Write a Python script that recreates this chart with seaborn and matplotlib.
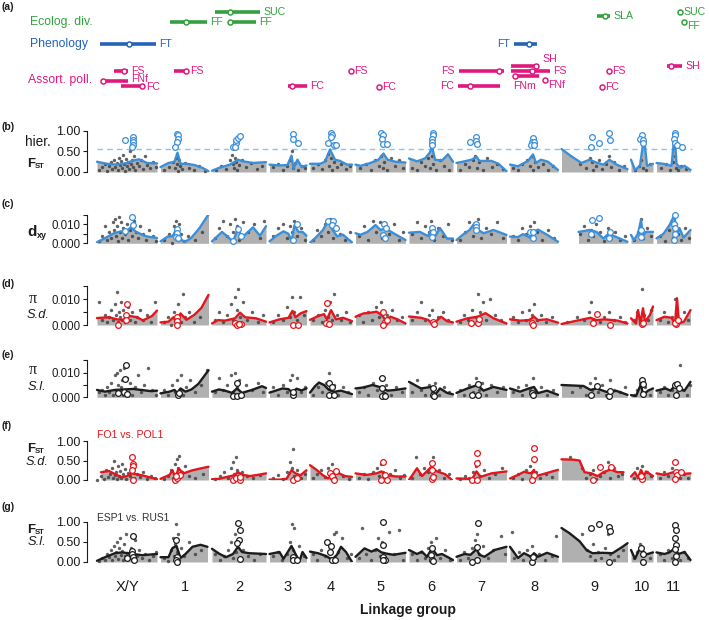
import numpy as np
import pandas as pd
import matplotlib
matplotlib.use("Agg")
import matplotlib.pyplot as plt
import seaborn as sns

# ---------------- data ----------------
GROUPS = ['X/Y', '1', '2', '3', '4', '5', '6', '7', '8', '9', '10', '11']
GROUP_LEN = [60, 48, 54, 37, 42, 50, 44, 50, 48, 66, 22, 34]

# panel (a): QTL intervals (local position within linkage group)
QTL_TRAIT = ['eco'] * 6 + ['phe'] * 2 + ['ass'] * 16
QTL_GROUP = ['2', '1', '2', '9', '11', '11', 'X/Y', '8', 'X/Y', 'X/Y', 'X/Y', '1', '3', '4', '5',
             '7', '7', '8', '8', '8', '8', '9', '9', '11']
QTL_START = [3, 9, 17, 35, 23, 27, 3, 4, 17, 4, 24, 13, 18, 41, 23, 2, 1, 1, 1, 4, 35, 47, 40, 10]
QTL_END = [48, 46, 44, 48, 23, 27, 59, 27, 31, 31, 46, 26, 37, 41, 23, 47, 43, 29, 40, 29, 35, 47, 40, 25]
QTL_PEAK = [18, 25, 18, 43, 23, 27, 32, 19, 27, 6, 45, 25, 22, 41, 23, 42, 13, 26, 22, 5, 35, 47, 40, 14]
QTL_LABEL = ['SUC', 'FF', 'FF', 'SLA', 'SUC', 'FF', 'FT', 'FT', 'FS', 'FNf', 'FC', 'FS', 'FC', 'FS', 'FC',
             'FS', 'FC', 'SH', 'FS', 'FNm', 'FNf', 'FS', 'FC', 'SH']
TRAIT_NAMES = {'eco': 'Ecolog. div.', 'phe': 'Phenology', 'ass': 'Assort. poll.'}

# (b) hierarchical FST
LINE_B = {
    'X/Y': [(0, 0.25), (10, 0.2), (20, 0.18), (30, 0.22), (36, 0.28), (42, 0.31), (50, 0.22), (60, 0.21)],
    '1': [(0, 0.12), (8, 0.22), (14, 0.25), (17, 0.47), (20, 0.2), (26, 0.2), (34, 0.17), (42, 0.1), (48, 0.02)],
    '2': [(0, 0.03), (7, 0.1), (18, 0.18), (26, 0.3), (31, 0.26), (41, 0.22), (54, 0.24)],
    '3': [(0, 0.18), (10, 0.16), (18, 0.17), (22, 0.4), (24, 0.08), (28, 0.3), (32, 0.12), (37, 0.16)],
    '4': [(0, 0.2), (10, 0.2), (15, 0.25), (20, 0.55), (25, 0.3), (30, 0.27), (37, 0.18), (42, 0.18)],
    '5': [(0, 0.18), (5, 0.15), (15, 0.22), (23, 0.3), (28, 0.45), (32, 0.3), (40, 0.25), (50, 0.23)],
    '6': [(0, 0.33), (8, 0.26), (16, 0.33), (21, 0.48), (23, 0.62), (26, 0.3), (33, 0.28), (39, 0.43), (44, 0.25)],
    '7': [(0, 0.22), (8, 0.26), (15, 0.3), (20, 0.37), (23, 0.27), (35, 0.27), (42, 0.2), (50, 0.02)],
    '8': [(0, 0.18), (8, 0.14), (18, 0.27), (23, 0.43), (26, 0.22), (31, 0.3), (38, 0.25), (48, 0.05)],
    '9': [(0, 0.56), (10, 0.38), (20, 0.22), (28, 0.3), (36, 0.22), (42, 0.18), (48, 0.3), (55, 0.18), (66, 0.07)],
    '10': [(0, 0.3), (4, 0.05), (9, 0.15), (13, 0.85), (16, 0.15), (22, 0.2)],
    '11': [(0, 0.22), (7, 0.2), (15, 0.15), (18, 0.9), (20, 0.2), (24, 0.1), (28, 0.15), (34, 0.05)],
}
DOTS_B = {
    'X/Y': [(2, 0.05), (5, 0.12), (8, 0.2), (10, 0.02), (12, 0.15), (14, 0.25), (15, 0.08), (17, 0.3), (18, 0.12),
            (20, 0.22), (21, 0.05), (22, 0.35), (23, 0.18), (24, 0.28), (25, 0.1), (26, 0.42), (27, 0.2), (28, 0.03),
            (29, 0.32), (30, 0.15), (31, 0.25), (32, 0.08), (33, 0.5), (34, 0.2), (35, 0.3), (36, 0.12), (37, 0.38),
            (38, 0.05), (40, 0.22), (42, 0.15), (44, 0.3), (46, 0.08), (48, 0.4), (50, 0.18), (53, 0.1), (56, 0.25),
            (59, 0.12)],
    '1': [(3, 0.05), (8, 0.12), (12, 0.25), (14, 0.1), (15, 0.35), (16, 0.2), (17, 0.02), (18, 0.3), (19, 0.15),
          (21, 0.08), (24, 0.22), (28, 0.1), (33, 0.05), (38, 0.15), (44, 0.03)],
    '2': [(4, 0.05), (9, 0.15), (14, 0.08), (18, 0.3), (20, 0.42), (21, 0.2), (22, 0.1), (23, 0.35), (24, 0.25),
          (25, 0.05), (27, 0.18), (30, 0.3), (34, 0.12), (39, 0.22), (45, 0.08), (50, 0.15)],
    '3': [(3, 0.12), (8, 0.2), (13, 0.05), (17, 0.15), (20, 0.3), (22, 0.5), (23, 0.1), (25, 0.22), (28, 0.05),
          (32, 0.15), (35, 0.1)],
    '4': [(3, 0.1), (8, 0.2), (12, 0.08), (15, 0.3), (18, 0.45), (19, 0.15), (21, 0.35), (22, 0.05), (24, 0.25),
          (27, 0.12), (31, 0.2), (36, 0.08), (40, 0.15)],
    '5': [(4, 0.1), (10, 0.2), (15, 0.05), (19, 0.3), (23, 0.15), (25, 0.4), (27, 0.1), (28, 0.25), (31, 0.05),
          (35, 0.35), (39, 0.15), (43, 0.3), (47, 0.1)],
    '6': [(3, 0.1), (8, 0.05), (12, 0.25), (16, 0.15), (19, 0.35), (21, 0.1), (23, 0.4), (24, 0.2), (27, 0.05),
          (31, 0.3), (35, 0.15), (40, 0.05)],
    '7': [(3, 0.05), (8, 0.2), (12, 0.12), (16, 0.3), (18, 0.4), (20, 0.1), (22, 0.25), (26, 0.05), (30, 0.35),
          (35, 0.12), (40, 0.2), (46, 0.08)],
    '8': [(3, 0.1), (8, 0.05), (12, 0.2), (17, 0.3), (20, 0.15), (22, 0.4), (23, 0.05), (25, 0.25), (28, 0.12),
          (33, 0.2), (38, 0.05), (43, 0.15)],
    '9': [(18, 0.2), (24, 0.1), (28, 0.35), (30, 0.25), (31, 0.05), (34, 0.15), (37, 0.3), (40, 0.08), (44, 0.2),
          (47, 0.4), (49, 0.12), (52, 0.25), (57, 0.05), (62, 0.15)],
    '10': [(4, 0.05), (8, 0.15), (10, 0.3), (12, 0.1), (15, 0.05), (19, 0.2)],
    '11': [(4, 0.1), (9, 0.2), (13, 0.05), (16, 0.25), (18, 0.4), (19, 0.1), (21, 0.05), (24, 0.15), (29, 0.08)],
}
CIRC_B = {
    'X/Y': [(28, 0.78), (36, 0.86), (36, 0.78), (36, 0.72), (36, 0.65), (35, 0.6)],
    '1': [(16, 0.93), (17, 0.9), (17, 0.8), (16, 0.74), (14, 0.6)],
    '2': [(21, 0.6), (24, 0.7), (24, 0.78), (26, 0.83), (28, 0.87), (23, 0.6)],
    '3': [(23, 0.93), (23, 0.8), (28, 0.7)],
    '4': [(18, 0.7), (21, 0.94), (22, 0.9), (21, 0.85), (24, 0.67), (26, 0.65)],
    '5': [(25, 0.96), (27, 0.9), (26, 0.8), (27, 0.68), (31, 0.68)],
    '6': [(24, 0.95), (24, 0.9), (23, 0.8), (23, 0.73), (23, 0.65)],
    '7': [(13, 0.72), (19, 0.86), (19, 0.76), (20, 0.68)],
    '8': [(23, 0.84), (22, 0.74), (24, 0.74), (21, 0.66), (24, 0.66)],
    '9': [(30, 0.86), (29, 0.62), (37, 0.7), (47, 0.96), (48, 0.77)],
    '10': [(11, 0.9), (9, 0.8), (12, 0.77), (12, 0.7)],
    '11': [(18, 0.95), (18, 0.9), (17, 0.8), (18, 0.7), (20, 0.67), (25, 0.62)],
}
HIER_THRESHOLD = 0.56

# (c) dxy
LINE_C = {
    'X/Y': [(0, 0.0005), (9, 0.003), (17, 0.0053), (24, 0.0063), (29, 0.006), (34, 0.0085), (39, 0.006), (49, 0.0037), (60, 0.0028)],
    '1': [(0, 0.001), (7, 0.0035), (12, 0.0037), (16, 0.0074), (19, 0.003), (24, 0.0005), (31, 0.003), (39, 0.008), (48, 0.0152)],
    '2': [(0, 0.001), (10, 0.006), (21, 0.001), (26, 0.0078), (30, 0.003), (41, 0.0084), (48, 0.004), (54, 0.009)],
    '3': [(0, 0.001), (7, 0.004), (14, 0.0063), (19, 0.005), (22, 0.001), (25, 0.0095), (29, 0.006), (33, 0.006), (37, 0.004)],
    '4': [(0, 0.0003), (5, 0.0026), (13, 0.007), (18, 0.012), (22, 0.0075), (27, 0.0037), (33, 0.0045), (42, 0.0005)],
    '5': [(0, 0.0053), (5, 0.0045), (12, 0.006), (20, 0.0096), (25, 0.007), (30, 0.0078), (38, 0.0053), (50, 0.0017)],
    '6': [(0, 0.0056), (11, 0.006), (19, 0.0038), (23, 0.0079), (26, 0.0035), (31, 0.008), (38, 0.0025), (44, 0.0025)],
    '7': [(0, 0.0017), (6, 0.0044), (13, 0.007), (18, 0.0105), (22, 0.007), (27, 0.0053), (37, 0.007), (50, 0.0044)],
    '8': [(0, 0.0035), (8, 0.0033), (13, 0.0048), (20, 0.003), (23, 0.006), (28, 0.0072), (37, 0.0045), (48, 0.0008)],
    '9': [(17, 0.006), (22, 0.0064), (28, 0.007), (35, 0.006), (42, 0.0025), (47, 0.005), (54, 0.0035), (66, 0.0008)],
    '10': [(0, 0.0044), (3, 0.0017), (7, 0.005), (10, 0.0122), (12, 0.004), (15, 0.006), (22, 0.006)],
    '11': [(0, 0.0026), (7, 0.005), (13, 0.0096), (18, 0.0149), (20, 0.004), (23, 0.008), (27, 0.003), (34, 0.007)],
}
DOTS_C = {
    'X/Y': [(2, 0.001), (5, 0.004), (8, 0.009), (10, 0.002), (12, 0.006), (14, 0.003), (16, 0.011), (17, 0.007),
            (18, 0.013), (19, 0.004), (20, 0.009), (21, 0.001), (22, 0.014), (23, 0.006), (24, 0.011), (25, 0.003),
            (26, 0.008), (28, 0.005), (30, 0.01), (31, 0.002), (33, 0.007), (35, 0.004), (37, 0.012), (39, 0.006),
            (41, 0.003), (43, 0.009), (46, 0.005), (49, 0.002), (52, 0.007), (56, 0.004), (59, 0.001)],
    '1': [(3, 0.002), (8, 0.005), (11, 0.0), (13, 0.009), (14, 0.004), (15, 0.012), (16, 0.007), (17, 0.002),
          (18, 0.01), (20, 0.005), (23, 0.001), (27, 0.004), (34, 0.002), (41, 0.006)],
    '2': [(3, 0.003), (7, 0.008), (11, 0.012), (15, 0.004), (18, 0.01), (21, 0.006), (23, 0.013), (25, 0.009),
          (27, 0.002), (31, 0.011), (36, 0.006), (42, 0.01), (48, 0.003), (52, 0.012)],
    '3': [(3, 0.004), (8, 0.008), (13, 0.01), (17, 0.003), (20, 0.009), (22, 0.006), (24, 0.012), (27, 0.004),
          (31, 0.008), (35, 0.002)],
    '4': [(3, 0.002), (7, 0.007), (11, 0.004), (15, 0.01), (18, 0.006), (20, 0.013), (23, 0.003), (26, 0.009),
          (30, 0.005), (35, 0.002), (40, 0.006)],
    '5': [(3, 0.004), (8, 0.009), (12, 0.002), (17, 0.012), (20, 0.006), (24, 0.011), (26, 0.003), (29, 0.008),
          (33, 0.005), (38, 0.01), (43, 0.002), (47, 0.006)],
    '6': [(3, 0.005), (8, 0.011), (12, 0.003), (16, 0.009), (20, 0.006), (22, 0.012), (25, 0.002), (29, 0.008),
          (34, 0.004), (39, 0.01), (43, 0.002)],
    '7': [(3, 0.002), (8, 0.006), (12, 0.011), (16, 0.004), (19, 0.009), (21, 0.013), (24, 0.003), (29, 0.008),
          (34, 0.005), (40, 0.011), (46, 0.003)],
    '8': [(3, 0.004), (8, 0.002), (12, 0.008), (16, 0.005), (20, 0.009), (22, 0.003), (24, 0.011), (27, 0.006),
          (32, 0.002), (38, 0.007), (44, 0.003)],
    '9': [(18, 0.005), (22, 0.009), (26, 0.002), (29, 0.007), (31, 0.004), (34, 0.01), (38, 0.006), (42, 0.001),
          (46, 0.008), (49, 0.003), (53, 0.006), (58, 0.002), (63, 0.004)],
    '10': [(3, 0.002), (7, 0.006), (10, 0.013), (12, 0.003), (16, 0.008), (20, 0.004)],
    '11': [(3, 0.004), (8, 0.001), (12, 0.007), (16, 0.003), (19, 0.01), (21, 0.005), (24, 0.002), (28, 0.008), (32, 0.003)],
}
CIRC_C = {
    'X/Y': [(35, 0.014), (36, 0.0098), (28, 0.0066)],
    '1': [(16, 0.0077), (16, 0.0055), (15, 0.0035), (17, 0.003)],
    '2': [(21, 0.0011), (29, 0.004), (26, 0.0075)],
    '3': [(23, 0.0015), (27, 0.0102)],
    '4': [(18, 0.012), (23, 0.012), (22, 0.0098), (26, 0.008)],
    '5': [(28, 0.0102), (30, 0.0081), (27, 0.0045), (29, 0.0028)],
    '6': [(23, 0.0079), (24, 0.0062), (23, 0.0035)],
    '7': [(19, 0.01), (19, 0.0085), (19, 0.007)],
    '8': [(20, 0.006), (23, 0.0062), (23, 0.003)],
    '9': [(30, 0.0122), (37, 0.0131), (29, 0.0048), (48, 0.006), (47, 0.0026)],
    '10': [(10, 0.0032), (10, 0.007)],
    '11': [(18, 0.015), (17, 0.0102), (18, 0.008), (18, 0.005), (17, 0.0015)],
}

# (d) pi, S. dioica
LINE_D = {
    'X/Y': [(0, 0.0027), (12, 0.003), (20, 0.0022), (26, 0.002), (33, 0.0035), (40, 0.003), (46, 0.0018), (55, 0.0035), (60, 0.0056)],
    '1': [(0, 0.001), (8, 0.0013), (13, 0.003), (16, 0.0009), (20, 0.0045), (26, 0.002), (34, 0.004), (41, 0.0067), (48, 0.0117)],
    '2': [(0, 0.0006), (6, 0.0019), (13, 0.0017), (23, 0.0026), (28, 0.0048), (33, 0.003), (44, 0.0026), (54, 0.0013)],
    '3': [(0, 0.001), (10, 0.0022), (19, 0.0028), (23, 0.0055), (26, 0.003), (31, 0.0045), (37, 0.0054)],
    '4': [(0, 0.002), (9, 0.0036), (14, 0.0042), (17, 0.0022), (21, 0.0058), (26, 0.0022), (33, 0.0028), (42, 0.0015)],
    '5': [(0, 0.0032), (8, 0.0045), (14, 0.0047), (21, 0.0052), (26, 0.0039), (30, 0.002), (35, 0.0032), (42, 0.0022), (50, 0.0006)],
    '6': [(0, 0.0033), (12, 0.0028), (19, 0.002), (24, 0.0003), (32, 0.0032), (38, 0.0015), (44, 0.001)],
    '7': [(0, 0.0013), (11, 0.0026), (21, 0.0032), (29, 0.0046), (37, 0.0026), (50, 0.0006)],
    '8': [(0, 0.0022), (10, 0.0017), (19, 0.0019), (24, 0.0032), (28, 0.0019), (37, 0.0022), (48, 0.0009)],
    '9': [(0, 0.0004), (18, 0.0019), (29, 0.0028), (35, 0.0019), (43, 0.0022), (56, 0.0017), (66, 0.0006)],
    '10': [(0, 0.0026), (5, 0.0006), (7, 0.0058), (9.5, 0.0006), (12, 0.0065), (14, 0.0013), (19, 0.0039), (22, 0.0072)],
    '11': [(0, 0.0019), (8, 0.0032), (15, 0.0028), (18.5, 0.0006), (20.5, 0.0104), (22.5, 0.0006), (27.5, 0.0013), (34, 0.0058)],
}
DOTS_D = {
    'X/Y': [(2, 0.009), (5, 0.002), (8, 0.004), (10, 0.001), (12, 0.003), (14, 0.006), (16, 0.002), (18, 0.008),
            (19, 0.004), (20, 0.013), (21, 0.001), (22, 0.005), (23, 0.003), (24, 0.009), (25, 0.002), (26, 0.006),
            (28, 0.001), (29, 0.004), (31, 0.007), (33, 0.002), (35, 0.005), (38, 0.001), (40, 0.003), (43, 0.006),
            (46, 0.002), (50, 0.004), (54, 0.001), (58, 0.009)],
    '1': [(3, 0.001), (7, 0.003), (10, 0.0), (13, 0.005), (15, 0.002), (17, 0.008), (18, 0.004), (20, 0.001),
          (22, 0.012), (24, 0.003), (28, 0.005), (33, 0.001), (39, 0.003)],
    '2': [(3, 0.002), (7, 0.005), (11, 0.001), (15, 0.004), (19, 0.008), (21, 0.002), (23, 0.011), (25, 0.006),
          (26, 0.014), (28, 0.003), (31, 0.009), (35, 0.002), (40, 0.005), (46, 0.001), (51, 0.004)],
    '3': [(3, 0.001), (8, 0.004), (13, 0.002), (17, 0.007), (20, 0.003), (22, 0.011), (24, 0.005), (27, 0.002),
          (30, 0.011), (34, 0.004)],
    '4': [(3, 0.002), (8, 0.004), (12, 0.001), (15, 0.006), (18, 0.003), (20, 0.009), (22, 0.002), (24, 0.012),
          (27, 0.004), (31, 0.002), (36, 0.005), (40, 0.001)],
    '5': [(3, 0.004), (7, 0.001), (12, 0.005), (16, 0.002), (20, 0.007), (23, 0.003), (25, 0.009), (28, 0.001),
          (31, 0.004), (36, 0.006), (41, 0.002), (46, 0.003)],
    '6': [(3, 0.002), (8, 0.005), (12, 0.009), (16, 0.002), (20, 0.004), (23, 0.006), (25, 0.001), (29, 0.003),
          (34, 0.005), (39, 0.002)],
    '7': [(3, 0.001), (7, 0.004), (11, 0.002), (15, 0.006), (19, 0.003), (21, 0.012), (23, 0.005), (26, 0.009),
          (29, 0.002), (33, 0.01), (38, 0.004), (44, 0.002)],
    '8': [(3, 0.003), (8, 0.001), (12, 0.005), (16, 0.002), (19, 0.006), (22, 0.004), (24, 0.008), (27, 0.002),
          (31, 0.004), (36, 0.001), (42, 0.003)],
    '9': [(5, 0.001), (15, 0.003), (22, 0.002), (27, 0.005), (29, 0.009), (31, 0.002), (34, 0.004), (38, 0.001),
          (42, 0.003), (47, 0.005), (52, 0.002), (58, 0.003), (63, 0.001)],
    '10': [(3, 0.002), (6, 0.005), (9, 0.001), (11, 0.014), (13, 0.004), (17, 0.002), (20, 0.006)],
    '11': [(3, 0.002), (7, 0.005), (11, 0.001), (15, 0.003), (18, 0.01), (20, 0.004), (23, 0.002), (27, 0.005), (31, 0.002)],
}
CIRC_D = {
    'X/Y': [(30, 0.008), (29, 0.0037), (29, 0.002), (21, 0.0)],
    '1': [(16, 0.003), (16, 0.0015), (16, 0.0)],
    '2': [(23, 0.0009), (25, 0.0), (29, 0.0004), (27, 0.0004)],
    '3': [(23, 0.0), (28, 0.0)],
    '4': [(17, 0.0084), (16, 0.0006), (19, 0.0002)],
    '5': [(27, 0.0052), (29, 0.0013), (27, 0.0), (31, 0.0019)],
    '6': [(24, 0.0013), (25, 0.0003)],
    '7': [(14, 0.0006), (21, 0.0006), (22, 0.0022)],
    '8': [(22, 0.0006), (23, 0.0)],
    '9': [(35, 0.0043), (31, 0.0006), (48, 0.0)],
    '10': [(11, 0.0004), (12, 0.0008)],
    '11': [(19.5, 0.0004), (18, 0.0008), (21, 0.0019)],
}

# (e) pi, S. latifolia
LINE_E = {
    'X/Y': [(0, 0.003), (8, 0.0023), (18, 0.003), (28, 0.0032), (36, 0.0034), (46, 0.0029), (54, 0.0025), (60, 0.0027)],
    '1': [(0, 0.0016), (9, 0.0023), (14, 0.003), (17, 0.0016), (20, 0.0036), (25, 0.0023), (31, 0.0032), (38, 0.0055), (48, 0.011)],
    '2': [(0, 0.0023), (7, 0.0032), (13, 0.0027), (20, 0.0018), (25, 0.0036), (30, 0.0018), (40, 0.003), (50, 0.0045), (54, 0.0038)],
    '3': [(0, 0.0019), (13, 0.0036), (19, 0.0033), (23, 0.0018), (27, 0.0035), (32, 0.0028), (37, 0.0036)],
    '4': [(0, 0.0019), (5, 0.0045), (9, 0.006), (14, 0.005), (19, 0.003), (24, 0.0022), (31, 0.0027), (42, 0.0013)],
    '5': [(0, 0.0036), (8, 0.004), (17, 0.005), (24, 0.0042), (32, 0.0027), (40, 0.003), (50, 0.0036)],
    '6': [(0, 0.0063), (12, 0.0036), (22, 0.0042), (26, 0.001), (31, 0.0036), (38, 0.0018), (44, 0.0012)],
    '7': [(0, 0.0018), (11, 0.0036), (21, 0.005), (27, 0.0027), (37, 0.0042), (50, 0.003)],
    '8': [(0, 0.0036), (10, 0.0023), (19, 0.0036), (24, 0.0042), (28, 0.0017), (37, 0.0027), (48, 0.001)],
    '9': [(0, 0.005), (22, 0.0046), (29, 0.003), (35, 0.0036), (45, 0.0022), (55, 0.0026), (66, 0.001)],
    '10': [(0, 0.0009), (5, 0.0005), (10, 0.0054), (12, 0.0009), (17, 0.0027), (22, 0.0036)],
    '11': [(0, 0.0027), (9, 0.0036), (14, 0.0027), (19, 0.005), (23, 0.0036), (28, 0.0027), (34, 0.0063)],
}
DOTS_E = {
    'X/Y': [(2, 0.002), (5, 0.003), (8, 0.001), (10, 0.004), (12, 0.002), (14, 0.006), (16, 0.001), (18, 0.009),
            (19, 0.003), (20, 0.01), (21, 0.005), (22, 0.002), (23, 0.011), (24, 0.004), (25, 0.007), (26, 0.001),
            (27, 0.012), (28, 0.003), (30, 0.008), (31, 0.002), (33, 0.006), (35, 0.001), (38, 0.004), (41, 0.009),
            (44, 0.002), (47, 0.005), (51, 0.012), (55, 0.003), (59, 0.001)],
    '1': [(3, 0.003), (7, 0.001), (11, 0.005), (14, 0.002), (16, 0.007), (18, 0.003), (20, 0.009), (22, 0.001),
          (25, 0.004), (29, 0.007), (34, 0.002), (40, 0.005), (46, 0.011)],
    '2': [(3, 0.002), (7, 0.008), (11, 0.003), (15, 0.005), (19, 0.009), (21, 0.002), (23, 0.01), (25, 0.004),
          (27, 0.007), (30, 0.001), (34, 0.005), (40, 0.003), (46, 0.006), (51, 0.002)],
    '3': [(3, 0.004), (8, 0.001), (13, 0.005), (17, 0.002), (20, 0.007), (22, 0.009), (24, 0.003), (27, 0.008),
          (31, 0.002), (35, 0.004)],
    '4': [(3, 0.001), (8, 0.004), (12, 0.002), (16, 0.006), (19, 0.01), (21, 0.003), (24, 0.005), (28, 0.001),
          (33, 0.004), (38, 0.002)],
    '5': [(3, 0.002), (8, 0.004), (12, 0.001), (17, 0.006), (21, 0.003), (24, 0.008), (27, 0.002), (30, 0.005),
          (35, 0.001), (40, 0.004), (46, 0.002)],
    '6': [(3, 0.002), (8, 0.007), (12, 0.003), (16, 0.001), (20, 0.005), (23, 0.002), (26, 0.006), (30, 0.001),
          (35, 0.004), (40, 0.002)],
    '7': [(3, 0.003), (7, 0.001), (12, 0.005), (16, 0.002), (19, 0.008), (22, 0.003), (25, 0.006), (29, 0.001),
          (34, 0.005), (40, 0.002), (46, 0.004)],
    '8': [(3, 0.002), (8, 0.004), (12, 0.001), (16, 0.005), (20, 0.003), (23, 0.008), (26, 0.002), (31, 0.004),
          (37, 0.001), (43, 0.003)],
    '9': [(10, 0.002), (18, 0.004), (24, 0.001), (28, 0.006), (30, 0.003), (33, 0.008), (36, 0.002), (40, 0.005),
          (44, 0.001), (48, 0.007), (52, 0.003), (58, 0.002), (63, 0.004)],
    '10': [(3, 0.001), (6, 0.003), (9, 0.006), (11, 0.002), (14, 0.004), (19, 0.001)],
    '11': [(3, 0.002), (7, 0.004), (11, 0.001), (15, 0.003), (18, 0.006), (20, 0.002), (23, 0.013), (26, 0.003),
           (30, 0.001), (33, 0.005)],
}
CIRC_E = {
    'X/Y': [(29, 0.0131), (28, 0.0075), (21, 0.0016), (27, 0.0022), (30, 0.0012)],
    '1': [(17, 0.0009), (18, 0.0018)],
    '2': [(25, 0.006), (21, 0.0007), (25, 0.0005), (29, 0.001)],
    '3': [(23, 0.0009), (23, 0.0022)],
    '4': [(19, 0.006), (22, 0.004), (19, 0.0009), (24, 0.0009)],
    '5': [(26, 0.0077), (26, 0.0036), (28, 0.0009), (26, 0.0005), (29, 0.0006)],
    '6': [(24, 0.0036), (24, 0.0009), (25, 0.0004)],
    '7': [(21, 0.0054), (15, 0.0009), (21, 0.0009)],
    '8': [(22, 0.0018), (23, 0.0008)],
    '9': [(35, 0.0046), (29, 0.0009), (47, 0.0005), (48, 0.0025)],
    '10': [(11, 0.007), (12, 0.0054), (12, 0.0012)],
    '11': [(18, 0.005), (20, 0.0054), (22, 0.0036), (19, 0.0009)],
}

# (f) FST FO1 vs POL1 (S. dioica)
LINE_F = {
    'X/Y': [(4, 0.2), (12, 0.23), (18, 0.15), (25, 0.07), (30, 0.1), (35, 0.17), (45, 0.12), (60, 0.02)],
    '1': [(0, 0.03), (9, 0.13), (12, 0.25), (15, 0.05), (18, 0.3), (23, 0.17), (32, 0.25), (48, 0.34)],
    '2': [(0, 0.02), (7, 0.03), (15, 0.08), (22, 0.12), (26, 0.2), (31, 0.13), (38, 0.1), (48, 0.14), (54, 0.17)],
    '3': [(0, 0.01), (10, 0.01), (17, 0.03), (22, 0.25), (26, 0.17), (31, 0.12), (37, 0.25)],
    '4': [(0, 0.38), (7, 0.25), (13, 0.12), (18, 0.04), (23, 0.15), (28, 0.18), (35, 0.1), (42, 0.08)],
    '5': [(0, 0.17), (11, 0.13), (21, 0.17), (26, 0.22), (31, 0.13), (40, 0.09), (50, 0.09)],
    '6': [(0, 0.0), (8, 0.3), (13, 0.1), (22, 0.33), (28, 0.22), (36, 0.15), (43, 0.0)],
    '7': [(0, 0.04), (12, 0.03), (15, 0.0), (20, 0.22), (24, 0.08), (35, 0.17), (50, 0.22)],
    '8': [(0, 0.04), (8, 0.13), (14, 0.21), (21, 0.17), (24, 0.26), (26, 0.1), (33, 0.15), (48, 0.26)],
    '9': [(0, 0.53), (12, 0.52), (18, 0.5), (23, 0.2), (30, 0.17), (36, 0.1), (42, 0.2), (49, 0.27), (56, 0.2), (62, 0.2)],
    '10': [(0, 0.09), (4, 0.2), (7, 0.05), (10, 0.26), (13, 0.1), (15, 0.22), (22, 0.1)],
    '11': [(0, 0.17), (8, 0.13), (13, 0.17), (18, 0.21), (23, 0.15), (34, 0.17)],
}
DOTS_F = {
    'X/Y': [(0, 0.0), (4, 0.1), (7, 0.02), (9, 0.25), (11, 0.08), (13, 0.15), (15, 0.3), (16, 0.05), (17, 0.48),
            (18, 0.12), (19, 0.2), (20, 0.02), (21, 0.35), (22, 0.1), (23, 0.22), (24, 0.05), (25, 0.42), (26, 0.15),
            (28, 0.28), (29, 0.03), (31, 0.18), (33, 0.1), (35, 0.25), (37, 0.05), (40, 0.15), (43, 0.08), (46, 0.2),
            (50, 0.03), (54, 0.1), (58, 0.05)],
    '1': [(3, 0.02), (7, 0.1), (10, 0.25), (12, 0.05), (14, 0.4), (15, 0.15), (16, 0.55), (17, 0.3), (18, 0.62),
          (19, 0.08), (21, 0.2), (24, 0.35), (28, 0.1), (34, 0.05), (42, 0.15)],
    '2': [(3, 0.02), (8, 0.1), (12, 0.2), (16, 0.05), (19, 0.3), (21, 0.45), (22, 0.15), (24, 0.6), (25, 0.25),
          (27, 0.08), (30, 0.2), (35, 0.1), (41, 0.05), (48, 0.12)],
    '3': [(3, 0.05), (8, 0.12), (13, 0.02), (17, 0.2), (20, 0.45), (22, 0.3), (23, 0.8), (24, 0.1), (27, 0.25),
          (31, 0.05), (35, 0.15)],
    '4': [(3, 0.05), (7, 0.15), (11, 0.25), (15, 0.08), (18, 0.3), (20, 0.12), (22, 0.4), (25, 0.05), (28, 0.2),
          (33, 0.1), (39, 0.03)],
    '5': [(3, 0.05), (8, 0.15), (12, 0.02), (17, 0.2), (21, 0.3), (23, 0.1), (25, 0.4), (27, 0.2), (30, 0.05),
          (34, 0.15), (39, 0.25), (44, 0.05), (48, 0.12)],
    '6': [(3, 0.05), (7, 0.6), (11, 0.15), (15, 0.3), (19, 0.2), (22, 0.45), (24, 0.6), (26, 0.1), (30, 0.25),
          (35, 0.05), (40, 0.15)],
    '7': [(3, 0.02), (8, 0.1), (12, 0.05), (16, 0.2), (19, 0.35), (21, 0.5), (23, 0.1), (27, 0.25), (32, 0.05),
          (38, 0.15), (45, 0.3)],
    '8': [(3, 0.05), (8, 0.15), (12, 0.02), (16, 0.25), (20, 0.35), (22, 0.1), (24, 0.5), (26, 0.2), (30, 0.05),
          (36, 0.15), (42, 0.08)],
    '9': [(8, 0.6), (20, 0.3), (24, 0.05), (28, 0.15), (31, 0.25), (34, 0.02), (38, 0.1), (42, 0.2), (46, 0.45),
          (48, 0.05), (52, 0.3), (56, 0.1), (60, 0.15)],
    '10': [(3, 0.05), (6, 0.3), (9, 0.15), (11, 0.35), (13, 0.05), (16, 0.2), (20, 0.1)],
    '11': [(3, 0.05), (7, 0.2), (11, 0.1), (15, 0.3), (18, 0.1), (20, 0.2), (23, 0.05), (27, 0.15), (31, 0.05)],
}
CIRC_F = {
    'X/Y': [(35, 0.6), (36, 0.42), (36, 0.35), (35, 0.26), (36, 0.0)],
    '1': [(14, 0.0), (16, 0.05), (19, 0.12), (15, 0.1)],
    '2': [(21, 0.0), (24, 0.05), (28, 0.0), (28, 0.08)],
    '3': [(23, 0.0), (27, 0.06)],
    '4': [(20, 0.17), (23, 0.06), (22, 0.1), (26, 0.22), (24, 0.0)],
    '5': [(27, 0.47), (29, 0.13), (25, 0.01), (31, 0.01)],
    '6': [(23, 0.43), (23, 0.26), (23, 0.02), (24, 0.08)],
    '7': [(20, 0.68), (20, 0.43), (15, 0.0), (20, 0.0)],
    '8': [(24, 0.81), (24, 0.54), (24, 0.13), (22, 0.0)],
    '9': [(38, 0.34), (49, 0.34), (31, 0.0)],
    '10': [(11, 0.02), (10, 0.1)],
    '11': [(18, 0.45), (19, 0.21), (20, 0.13), (18, 0.02), (24, 0.21)],
}

# (g) FST ESP1 vs RUS1 (S. latifolia)
LINE_G = {
    'X/Y': [(0, 0.03), (9, 0.13), (18, 0.22), (25, 0.24), (34, 0.21), (45, 0.17), (60, 0.2)],
    '1': [(0, 0.12), (8, 0.12), (12, 0.35), (16, 0.4), (20, 0.1), (25, 0.2), (32, 0.38), (40, 0.43), (47, 0.38)],
    '2': [(0, 0.33), (7, 0.21), (14, 0.12), (21, 0.2), (26, 0.38), (30, 0.25), (37, 0.22), (54, 0.2)],
    '3': [(0, 0.2), (10, 0.25), (14, 0.08), (22, 0.4), (26, 0.2), (30, 0.02), (33, 0.25), (37, 0.1)],
    '4': [(0, 0.26), (8, 0.22), (16, 0.15), (22, 0.06), (27, 0.18), (31, 0.38), (36, 0.25), (42, 0.0)],
    '5': [(0, 0.13), (9, 0.34), (16, 0.26), (21, 0.32), (26, 0.24), (31, 0.21), (38, 0.18), (50, 0.23)],
    '6': [(0, 0.3), (8, 0.2), (13, 0.26), (18, 0.13), (23, 0.34), (28, 0.17), (33, 0.2), (44, 0.05)],
    '7': [(0, 0.13), (8, 0.2), (14, 0.18), (20, 0.32), (23, 0.18), (28, 0.13), (38, 0.3), (50, 0.38)],
    '8': [(0, 0.38), (8, 0.1), (14, 0.22), (21, 0.13), (24, 0.22), (28, 0.13), (37, 0.23), (48, 0.13)],
    '9': [(0, 0.85), (8, 0.72), (18, 0.52), (25, 0.3), (31, 0.22), (41, 0.23), (51, 0.22), (61, 0.38), (66, 0.47)],
    '10': [(0, 0.3), (4, 0.08), (8, 0.3), (11, 0.33), (14, 0.18), (22, 0.24)],
    '11': [(0, 0.24), (8, 0.2), (13, 0.24), (18, 0.34), (22, 0.2), (28, 0.25), (34, 0.05)],
}
DOTS_G = {
    'X/Y': [(2, 0.02), (5, 0.1), (8, 0.05), (10, 0.2), (12, 0.12), (14, 0.3), (15, 0.05), (17, 0.4), (18, 0.15),
            (19, 0.25), (20, 0.5), (21, 0.08), (22, 0.35), (23, 0.6), (24, 0.18), (25, 0.28), (26, 0.05), (27, 0.45),
            (28, 0.15), (29, 0.7), (30, 0.22), (32, 0.1), (34, 0.35), (36, 0.05), (38, 0.55), (40, 0.15), (42, 0.3),
            (45, 0.1), (48, 0.2), (52, 0.05), (56, 0.15), (59, 0.25)],
    '1': [(3, 0.1), (7, 0.02), (10, 0.3), (12, 0.6), (13, 0.15), (14, 0.45), (15, 0.95), (16, 0.25), (17, 0.7),
          (18, 0.05), (20, 0.35), (23, 0.15), (28, 0.5), (34, 0.2), (40, 0.3)],
    '2': [(3, 0.2), (8, 0.05), (12, 0.15), (16, 0.3), (19, 0.5), (21, 0.1), (23, 0.7), (24, 0.25), (26, 0.45),
          (28, 0.05), (31, 0.3), (36, 0.15), (42, 0.05), (48, 0.2)],
    '3': [(3, 0.15), (8, 0.25), (12, 0.05), (17, 0.2), (20, 0.5), (22, 0.95), (23, 0.3), (24, 0.85), (26, 0.1),
          (29, 0.4), (34, 0.15)],
    '4': [(3, 0.2), (7, 0.05), (11, 0.3), (15, 0.15), (18, 0.45), (21, 0.1), (24, 0.7), (26, 0.75), (28, 0.25),
          (32, 0.6), (37, 0.1), (41, 0.2)],
    '5': [(3, 0.1), (6, 0.85), (10, 0.2), (15, 0.05), (19, 0.3), (22, 0.6), (24, 0.15), (26, 0.5), (29, 0.1),
          (33, 0.75), (38, 0.2), (43, 0.8), (47, 0.05)],
    '6': [(3, 0.2), (8, 0.05), (12, 0.25), (16, 0.1), (19, 0.35), (22, 0.5), (24, 0.15), (27, 0.6), (31, 0.1),
          (36, 0.3), (41, 0.05)],
    '7': [(3, 0.05), (7, 0.25), (11, 0.1), (15, 0.35), (18, 0.55), (20, 0.7), (22, 0.2), (26, 0.4), (31, 0.1),
          (36, 0.3), (44, 0.65), (48, 0.2)],
    '8': [(2, 0.75), (4, 0.1), (9, 0.25), (13, 0.05), (17, 0.3), (20, 0.15), (22, 0.4), (25, 0.1), (29, 0.2),
          (35, 0.05), (42, 0.15), (46, 0.65)],
    '9': [(20, 0.7), (25, 0.3), (28, 0.15), (31, 0.45), (33, 0.05), (36, 0.25), (39, 0.1), (43, 0.35), (46, 0.7),
          (48, 0.2), (52, 0.05), (56, 0.15), (61, 0.3)],
    '10': [(3, 0.1), (6, 0.25), (9, 0.45), (11, 0.05), (14, 0.2), (19, 0.1)],
    '11': [(3, 0.2), (7, 0.05), (11, 0.3), (15, 0.1), (18, 0.45), (20, 0.2), (23, 0.05), (27, 0.25), (31, 0.1)],
}
CIRC_G = {
    'X/Y': [(36, 0.66), (35, 0.28), (35, 0.2), (36, 0.12), (30, 0.1), (37, 0.04)],
    '1': [(15, 0.55), (16, 0.12), (15, 0.04), (16, 0.0)],
    '2': [(26, 0.98), (28, 0.8), (27, 0.55), (25, 0.47), (28, 0.08)],
    '3': [(23, 0.12), (23, 0.04), (27, 0.06)],
    '4': [(17, 0.51), (21, 0.4), (20, 0.25), (22, 0.04), (25, 0.06)],
    '5': [(27, 0.99), (27, 0.43), (27, 0.13), (29, 0.05), (27, 0.06)],
    '6': [(23, 0.34), (22, 0.18), (23, 0.05), (24, 0.02)],
    '7': [(21, 0.97), (20, 0.38), (20, 0.05), (15, 0.0)],
    '8': [(22, 0.01), (23, 0.12)],
    '9': [(29, 0.84), (37, 0.95), (47, 0.88), (48, 0.77), (47, 0.0)],
    '10': [(10, 0.35), (12, 0.2), (12, 0.0)],
    '11': [(18, 0.92), (19, 0.79), (18, 0.6), (19, 0.43), (18, 0.32), (19, 0.16), (18, 0.0)],
}

# ---------------- style / layout ----------------
sns.set_style("white")
plt.rcParams['font.family'] = ['Liberation Sans', 'DejaVu Sans']

W, H = 709, 620
BLUE = '#3b8fd8'
RED = '#e2161c'
BLACK = '#1c1c1c'
GREEN = '#34a040'
PBLUE = '#2563b5'
MAGENTA = '#e0197f'
GRAY_FILL = '#b0b0b0'
DOT = '#3a3a3a'
TRAIT_COLOR = {'eco': GREEN, 'phe': PBLUE, 'ass': MAGENTA}

GAP = 3.5
X0 = 97.0
X_LEFT, X_RIGHT = 87.0, 700.0
offsets = X0 + np.concatenate([[0], np.cumsum(np.array(GROUP_LEN) + GAP)[:-1]])
OFF = dict(zip(GROUPS, offsets))
CENTER = {g: OFF[g] + L / 2 for g, L in zip(GROUPS, GROUP_LEN)}

fig = plt.figure(figsize=(W / 100, H / 100), dpi=100)
ov = fig.add_axes([0, 0, 1, 1])
ov.set_xlim(0, W)
ov.set_ylim(H, 0)
ov.axis('off')
ov.patch.set_alpha(0)


def txt(x, y, s, **kw):
    kw.setdefault('va', 'center')
    kw.setdefault('ha', 'left')
    ov.text(x, y, s, **kw)


# ---------- panel (a) ----------
QTL_ROW = [12, 22, 22, 16, 12, 22, 44, 44, 71, 81, 86, 71, 86, 71, 87, 71, 86, 66, 71, 76, 80, 71, 87, 66]
QTL_LAB_POS = ['r', 'r', 'r', 'r', 'r', 'r', 'r', 'l', 'r', 'r', 'r', 'r', 'r', 'r', 'r',
               'l', 'l', 'r', 'r', 'b', 'r', 'r', 'r', 'r']
QTL_LAB_DY = [0, 0, 0, 0, 0, 4, 0, 0, 0, -1.5, 1, 0, 0, 0, 0, 0, 0, -7, 0, 10, 5, 0, 0, 0]
for tr, g, s0, s1, pk, lab, yr, lp, dy in zip(QTL_TRAIT, QTL_GROUP, QTL_START, QTL_END, QTL_PEAK,
                                             QTL_LABEL, QTL_ROW, QTL_LAB_POS, QTL_LAB_DY):
    c = TRAIT_COLOR[tr]
    xa, xb, xp = OFF[g] + s0, OFF[g] + s1, OFF[g] + pk
    if s1 > s0:
        ov.plot([xa, xb], [yr, yr], color=c, lw=2.6, solid_capstyle='butt', zorder=3)
    ov.plot([xp], [yr], marker='o', ms=3.6, mfc='white', mec=c, mew=1.1, zorder=4)
    if lp == 'r':
        txt(max(xb, xp) + 3.5, yr + dy, lab, color=c, fontsize=7.6)
    elif lp == 'l':
        txt(xa - 3.5, yr + dy, lab, color=c, fontsize=7.6, ha='right')
    else:
        txt(xa - 1, yr + dy, lab, color=c, fontsize=7.6)

txt(30, 22, TRAIT_NAMES['eco'], color=GREEN, fontsize=8.8)
txt(30, 44.5, TRAIT_NAMES['phe'], color=PBLUE, fontsize=8.8)
txt(28, 80, TRAIT_NAMES['ass'], color=MAGENTA, fontsize=8.8)

# ---------- panels (b)-(g) ----------
PANELS = [
    dict(key='b', line=LINE_B, dots=DOTS_B, circ=CIRC_B, top=1.0, y0=172.0, y1=131.0, lc=BLUE, ce=BLUE,
         ticks=[0, 0.5, 1.0], tl=['0.00', '0.50', '1.00'], fs=9),
    dict(key='c', line=LINE_C, dots=DOTS_C, circ=CIRC_C, top=0.015, y0=243.3, y1=214.8, lc=BLUE, ce=BLUE,
         ticks=[0, 0.005, 0.01, 0.015], tl=['0.000', '', '0.010', ''], fs=8.3),
    dict(key='d', line=LINE_D, dots=DOTS_D, circ=CIRC_D, top=0.015, y0=325.0, y1=286.4, lc=RED, ce=RED,
         ticks=[0, 0.005, 0.01, 0.015], tl=['0.000', '', '0.010', ''], fs=8.3),
    dict(key='e', line=LINE_E, dots=DOTS_E, circ=CIRC_E, top=0.015, y0=397.3, y1=360.4, lc=BLACK, ce=BLACK,
         ticks=[0, 0.005, 0.01, 0.015], tl=['0.000', '', '0.010', ''], fs=8.3),
    dict(key='f', line=LINE_F, dots=DOTS_F, circ=CIRC_F, top=1.0, y0=480.0, y1=441.0, lc=RED, ce=RED,
         ticks=[0, 0.5, 1.0], tl=['0.00', '0.50', '1.00'], fs=9),
    dict(key='g', line=LINE_G, dots=DOTS_G, circ=CIRC_G, top=1.0, y0=562.0, y1=522.0, lc=BLACK, ce=BLACK,
         ticks=[0, 0.5, 1.0], tl=['0.00', '0.50', '1.00'], fs=9),
]


def to_df(d):
    rows = []
    for g in GROUPS:
        for p, v in d.get(g, []):
            rows.append((g, OFF[g] + p, v))
    return pd.DataFrame(rows, columns=['grp', 'x', 'y'])


axes = {}
for P in PANELS:
    ax = fig.add_axes([X_LEFT / W, 1 - P['y0'] / H, (X_RIGHT - X_LEFT) / W, (P['y0'] - P['y1']) / H])
    ax.patch.set_alpha(0)
    ax.set_xlim(X_LEFT, X_RIGHT)
    ax.set_ylim(0, P['top'])
    axes[P['key']] = ax
    line_df = to_df(P['line'])
    for g, sub in line_df.groupby('grp', sort=False):
        ax.fill_between(sub['x'].to_numpy(), 0, sub['y'].to_numpy(), color=GRAY_FILL, lw=0, zorder=1)
    sns.scatterplot(data=to_df(P['dots']), x='x', y='y', s=6, color=DOT, alpha=0.8, linewidth=0,
                    ax=ax, legend=False, clip_on=False, zorder=2)
    sns.lineplot(data=line_df, x='x', y='y', units='grp', estimator=None, sort=False, color=P['lc'],
                 lw=1.7, ax=ax, legend=False, zorder=3)
    sns.scatterplot(data=to_df(P['circ']), x='x', y='y', s=17, color='white', edgecolor=P['ce'],
                    linewidth=0.9, ax=ax, legend=False, clip_on=False, zorder=4)
    if P['key'] == 'b':
        ax.axhline(HIER_THRESHOLD, xmin=(X0 - X_LEFT) / (X_RIGHT - X_LEFT),
                   xmax=(692 - X_LEFT) / (X_RIGHT - X_LEFT), color='#8cc4ef', lw=1.0,
                   dashes=(4, 3), zorder=0.5)
    for s in ['top', 'right', 'bottom']:
        ax.spines[s].set_visible(False)
    ax.spines['left'].set_bounds(0, P['top'])
    ax.spines['left'].set_color(BLACK)
    ax.spines['left'].set_linewidth(0.8)
    ax.set_yticks(P['ticks'])
    ax.set_yticklabels(P['tl'])
    ax.tick_params(axis='y', left=True, length=3, width=0.8, pad=1.5, labelsize=P['fs'], colors=BLACK)
    ax.set_xlabel('')
    ax.set_ylabel('')
    if P['key'] == 'g':
        ax.set_xticks([CENTER[g] for g in GROUPS])
        ax.set_xticklabels(GROUPS)
        ax.tick_params(axis='x', bottom=False, length=0, pad=13, labelsize=10.5, colors=BLACK)
    else:
        ax.set_xticks([])

# ---------- texts ----------
for lab, y in [('(a)', 7), ('(b)', 127), ('(c)', 204), ('(d)', 284), ('(e)', 355), ('(f)', 426), ('(g)', 507)]:
    txt(1, y, lab, fontsize=7.5, fontweight='bold', color=BLACK)


def fst_label(y):
    txt(27.5, y, 'F', fontsize=9.5, fontweight='bold', color=BLACK)
    txt(34.5, y + 2.5, 'ST', fontsize=5.5, fontweight='bold', color=BLACK)


txt(25, 142, 'hier.', fontsize=9.8, color=BLACK)
fst_label(164)
txt(27.5, 232, 'd', fontsize=11, fontweight='bold', color=BLACK)
txt(37, 236, 'xy', fontsize=6.5, fontweight='bold', color=BLACK)
txt(29, 299, 'π', fontsize=11.5, color=BLACK, family=['Liberation Serif', 'DejaVu Serif'])
txt(27, 315, 'S.d.', fontsize=9.3, style='italic', color=BLACK)
txt(29, 370.5, 'π', fontsize=11.5, color=BLACK, family=['Liberation Serif', 'DejaVu Serif'])
txt(27.5, 386.5, 'S.l.', fontsize=9.3, style='italic', color=BLACK)
fst_label(449)
txt(26, 462, 'S.d.', fontsize=9.3, style='italic', color=BLACK)
fst_label(530)
txt(27.5, 542, 'S.l.', fontsize=9.3, style='italic', color=BLACK)
txt(97, 435, 'FO1 vs. POL1', fontsize=7.6, color=RED)
txt(97, 518, 'ESP1 vs. RUS1', fontsize=7.4, color='#333333')
txt(408, 610, 'Linkage group', fontsize=10, fontweight='bold', color=BLACK, ha='center')

fig.savefig('out.png', dpi=100)
